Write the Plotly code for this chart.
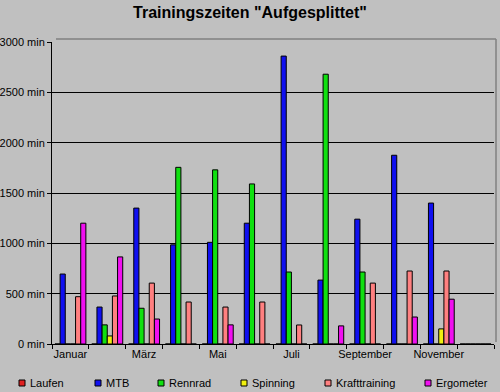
import plotly.graph_objects as go

months = ["Januar", "Februar", "März", "April", "Mai", "Juni", "Juli",
          "August", "September", "Oktober", "November", "Dezember"]
tick_text = ["Januar", "", "März", "", "Mai", "", "Juli", "", "September", "", "November", ""]
y_ticks = [0, 500, 1000, 1500, 2000, 2500, 3000]
y_tick_text = [f"{v} min" for v in y_ticks]

laufen = [0, 0, 0, 0, 0, 0, 0, 0, 0, 0, 0, 0]
mtb = [695, 367, 1350, 985, 1010, 1200, 2860, 635, 1240, 1875, 1400, 0]
rennrad = [0, 190, 355, 1755, 1730, 1590, 715, 2680, 715, 0, 0, 0]
spinning = [0, 80, 0, 0, 0, 0, 0, 0, 0, 0, 150, 0]
kraft = [470, 477, 605, 417, 367, 417, 189, 0, 605, 725, 725, 0]
ergometer = [1200, 865, 248, 0, 190, 0, 0, 180, 0, 268, 445, 0]

series = [
    ("Laufen", laufen, "#e02020"),
    ("MTB", mtb, "#1010f0"),
    ("Rennrad", rennrad, "#10e010"),
    ("Spinning", spinning, "#f0f010"),
    ("Krafttraining", kraft, "#ff8080"),
    ("Ergometer", ergometer, "#f010f0"),
]
# legend square left edge (px) for each entry
legend_px = [19, 95, 158, 241, 325, 425]

W, H = 500, 392
L, R, T, B = 52, 6, 42, 48
pw, ph = W - L - R, H - T - B

def px_x(p):
    return (p - L) / pw

def px_y(p):
    return (H - B - p) / ph

fig = go.Figure()
for name, vals, col in series:
    fig.add_trace(go.Bar(
        x=months, y=vals, name=name,
        marker=dict(color=col, line=dict(color="black", width=1)),
    ))

font = "Arial, Liberation Sans, sans-serif"
fig.update_layout(
    width=W, height=H,
    paper_bgcolor="#c0c0c0", plot_bgcolor="#c0c0c0",
    margin=dict(l=L, r=R, t=T, b=B, autoexpand=False),
    font=dict(family=font, size=11, color="black"),
    title=dict(text="<b>Trainingszeiten \"Aufgesplittet\"</b>", x=0.5, xanchor="center",
               y=1 - 12 / H, yanchor="middle", font=dict(size=16, family=font)),
    barmode="group", bargap=0.16, bargroupgap=0,
    showlegend=False,
    xaxis=dict(type="category", tickvals=months, ticktext=tick_text, tickson="boundaries",
               ticks="outside", ticklen=4, tickcolor="black", showline=True, linecolor="black",
               linewidth=1, showgrid=False, tickfont=dict(size=11), tickangle=0),
    yaxis=dict(range=[0, 3000], tickmode="array", tickvals=y_ticks, ticktext=y_tick_text,
               ticks="outside", ticklen=4, tickcolor="black",
               showline=True, linecolor="black", linewidth=1,
               showgrid=True, gridcolor="black", gridwidth=1, zeroline=False,
               tickfont=dict(size=11)),
)
# back wall frame
fig.add_shape(type="line", xref="paper", yref="paper", x0=px_x(56), x1=px_x(496),
              y0=px_y(39), y1=px_y(39), line=dict(color="#808080", width=1.5))
fig.add_shape(type="line", xref="paper", yref="paper", x0=px_x(496), x1=px_x(496),
              y0=px_y(342), y1=px_y(39), line=dict(color="#808080", width=1.5))

# legend (manual)
for (name, vals, col), lx in zip(series, legend_px):
    fig.add_shape(type="rect", xref="paper", yref="paper",
                  x0=px_x(lx), x1=px_x(lx + 6), y0=px_y(386), y1=px_y(380),
                  fillcolor=col, line=dict(color="black", width=1))
    fig.add_annotation(text=name, xref="paper", yref="paper", x=px_x(lx + 9), y=px_y(383),
                       xanchor="left", yanchor="middle", showarrow=False,
                       font=dict(size=11, family=font))
fig.write_html("out.html", config={"displayModeBar": False},
               post_script="document.body.style.margin='0';document.body.style.overflow='hidden';")
